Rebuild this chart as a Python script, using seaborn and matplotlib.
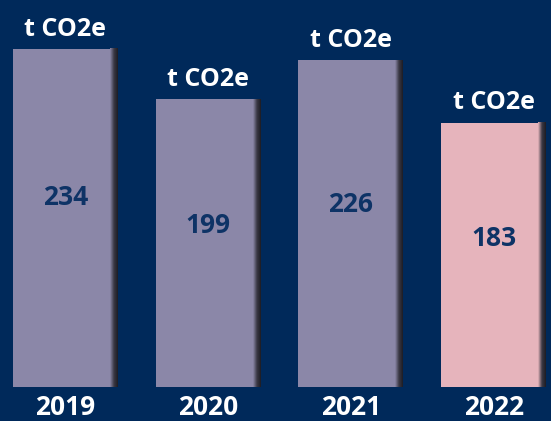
import numpy as np
import matplotlib
matplotlib.use('Agg')
import matplotlib.pyplot as plt
import seaborn as sns
from matplotlib.colors import LinearSegmentedColormap

# dados
years = ['2019', '2020', '2021', '2022']
values = [234, 199, 226, 183]
unit = 't CO2e'

bg = '#00295a'
bar_colors = ['#8b87a8', '#8b87a8', '#8b87a8', '#e6b4bc']
num_color = '#0e3366'

sns.set_style('white')
plt.rcParams['font.family'] = ['Open Sans', 'DejaVu Sans']

fig = plt.figure(figsize=(5.51, 4.21), dpi=100, facecolor=bg)
ax = fig.add_axes([0, 0, 1, 1])
ax.set_facecolor(bg)

sns.barplot(x=years, y=values, hue=years, palette=bar_colors, legend=False,
            width=0.70, saturation=1, ax=ax, linewidth=0)

ax.axis('off')

sw = 0.056  # largura da sombra
for patch, val, yr, col in zip(ax.patches, values, years, bar_colors):
    x0 = patch.get_x()
    x1 = x0 + patch.get_width()
    h = patch.get_height()
    cmap = LinearSegmentedColormap.from_list('sh', [col, '#3a3844', '#1d1c24'])
    grad = np.linspace(0, 1, 64).reshape(1, -1)
    ax.imshow(grad, cmap=cmap, extent=[x1 - sw * 0.35, x1 + sw * 0.65, 0, h],
              aspect='auto', zorder=patch.get_zorder() + 0.1)
    xc = (x0 + x1 + sw * 0.65) / 2
    # unidade acima da barra
    ax.annotate(unit, (xc, h), xytext=(0, 9.5), textcoords='offset points',
                ha='center', va='baseline', color='white',
                fontsize=18, fontweight='bold')
    # valor dentro da barra
    ax.text(xc, val * 0.56, str(val), ha='center', va='center',
            color=num_color, fontsize=19, fontweight='bold')
    # ano embaixo
    ax.text(xc, -19.5, yr, ha='center', va='baseline', color='white',
            fontsize=19, fontweight='bold')

ax.set_xlim(-0.44, 3.42)
ax.set_ylim(-23.5, 267.8)

fig.savefig('out.png', dpi=100, facecolor=bg)
